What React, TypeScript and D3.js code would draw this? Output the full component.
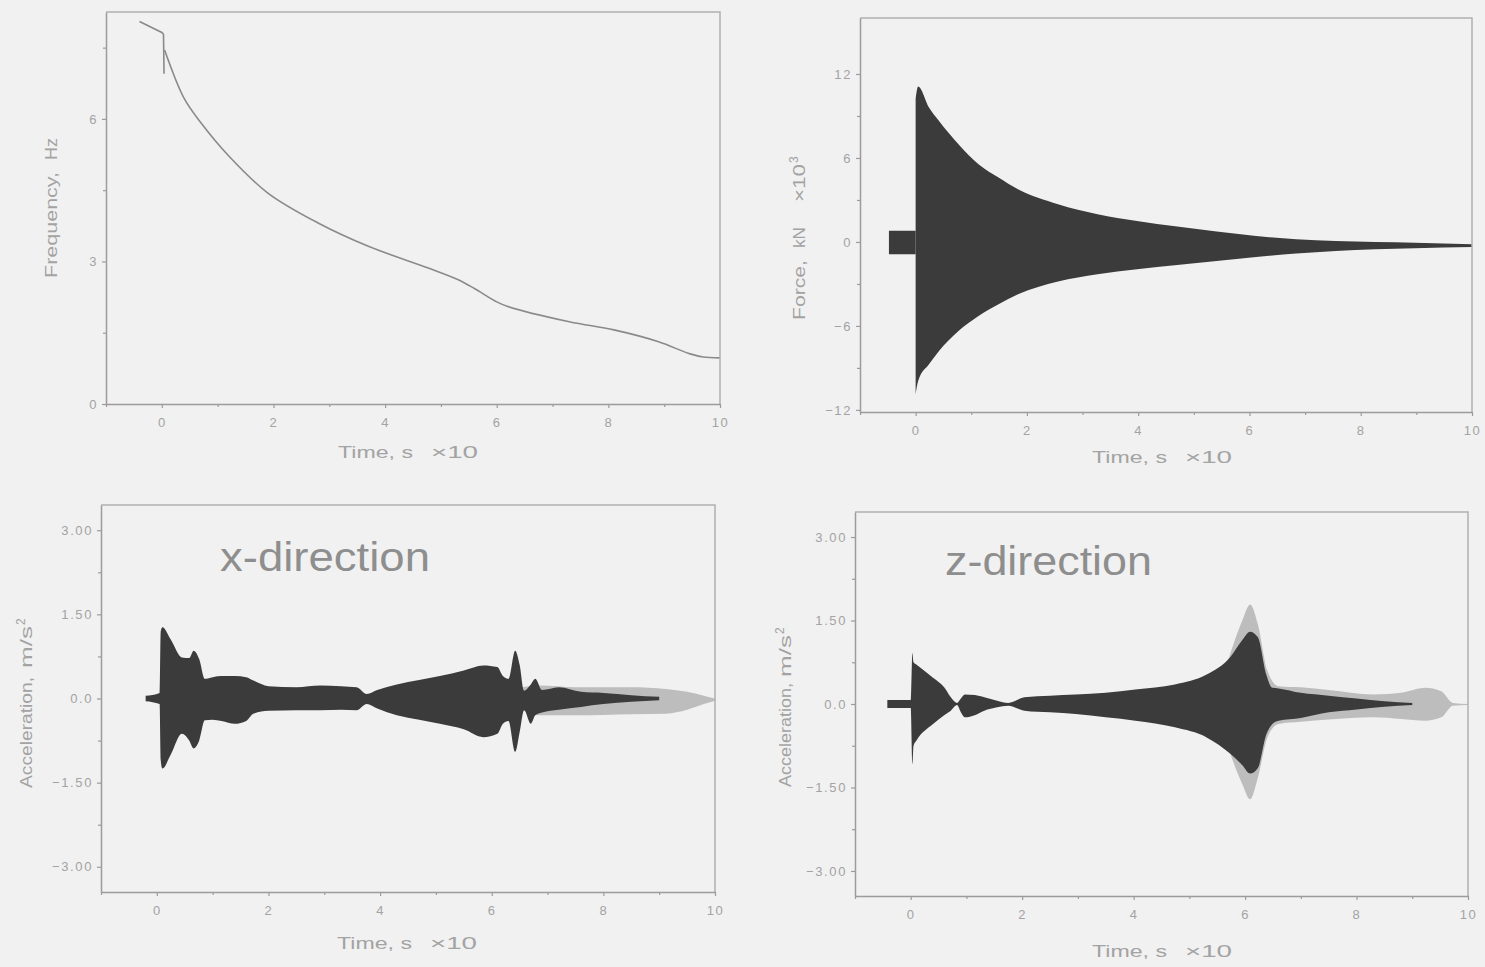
import * as d3 from 'd3'
import { useEffect, useRef } from 'react'

// shared time axis (s x10)
const X_MAJOR = [0, 2, 4, 6, 8, 10]
const X_MINOR = [-1, 1, 3, 5, 7, 9]

// top-left: frequency vs time (start segment with the glitch, then the decay curve)
const FREQ_HEAD_T = [-0.4, 0, 0.03, 0.04]
const FREQ_HEAD_HZ = [8.05, 7.82, 7.78, 6.95]
const FREQ_T = [0.05, 0.4, 0.7, 1.2, 1.9, 2.8, 3.7, 4.8, 5.3, 5.6, 6.0, 6.2, 7.3, 8.1, 8.9, 9.45, 9.7, 10]
const FREQ_HZ = [7.45, 6.43, 5.92, 5.22, 4.44, 3.81, 3.32, 2.85, 2.62, 2.43, 2.15, 2.05, 1.73, 1.56, 1.31, 1.06, 0.99, 0.97]

// top-right: force envelope (kN x10^3)
const FORCE_PRE_T = [-0.48, 0]
const FORCE_PRE_UP = [0.8, 0.8]
const FORCE_PRE_LO = [-0.88, -0.88]
const FORCE_T = [0, 0.045, 0.24, 0.42, 0.77, 1.13, 1.49, 1.84, 2.56, 3.27, 3.98, 4.7, 5.41, 6.12, 6.84, 7.55, 8.97, 10]
const FORCE_UP = [10.2, 11.1, 9.6, 8.64, 6.98, 5.55, 4.6, 3.76, 2.69, 1.98, 1.5, 1.1, 0.74, 0.43, 0.19, 0.07, -0.05, -0.17]
const FORCE_LO = [-10.88, -9.93, -8.74, -7.79, -6.36, -5.29, -4.45, -3.74, -2.83, -2.31, -1.95, -1.64, -1.36, -1.07, -0.83, -0.64, -0.45, -0.36]

// bottom-left: acceleration, x-direction
const ACCX_T = [-0.2, 0.05, 0.07, 0.1, 0.25, 0.45, 0.58, 0.66, 0.76, 0.86, 1.0, 1.16, 1.4, 1.6, 1.73, 2.0, 2.5, 2.93, 3.3, 3.58, 3.76, 3.95, 4.3, 4.7, 5.07, 5.5, 5.85, 6.1, 6.2, 6.3, 6.42, 6.5, 6.58, 6.7, 6.78, 6.9, 7.2, 7.6, 8.0, 8.5, 9.0]
const ACCX_UP = [0.05, 0.1, 1.2, 1.27, 1.05, 0.73, 0.72, 0.85, 0.7, 0.35, 0.38, 0.4, 0.4, 0.38, 0.32, 0.22, 0.2, 0.23, 0.22, 0.2, 0.08, 0.15, 0.25, 0.33, 0.4, 0.5, 0.59, 0.56, 0.4, 0.35, 0.85, 0.6, 0.14, 0.25, 0.35, 0.15, 0.2, 0.12, 0.1, 0.06, 0.03]
const ACCX_LO = [-0.05, -0.1, -1.1, -1.25, -1.0, -0.63, -0.75, -0.89, -0.75, -0.39, -0.38, -0.4, -0.45, -0.4, -0.27, -0.22, -0.21, -0.21, -0.2, -0.21, -0.1, -0.18, -0.3, -0.38, -0.45, -0.55, -0.69, -0.63, -0.45, -0.4, -0.95, -0.6, -0.21, -0.45, -0.3, -0.25, -0.2, -0.15, -0.1, -0.06, -0.03]
const ACCX_TAIL_T = [6.55, 6.85, 7.5, 8.5, 9.12, 9.5, 9.8, 10]
const ACCX_TAIL_UP = [0.2, 0.23, 0.2, 0.2, 0.17, 0.12, 0.05, 0.0]
const ACCX_TAIL_LO = [-0.2, -0.3, -0.3, -0.28, -0.27, -0.2, -0.1, -0.04]

// bottom-right: acceleration, z-direction
const ACCZ_T = [-0.42, 0.0, 0.03, 0.05, 0.1, 0.4, 0.6, 0.72, 0.83, 0.9, 0.97, 1.15, 1.32, 1.55, 1.75, 2.04, 2.5, 2.96, 3.5, 4.03, 4.74, 5.31, 5.74, 5.95, 6.09, 6.23, 6.38, 6.49, 6.6, 7.0, 7.5, 8.0, 8.5, 9.0]
const ACCZ_UP = [0.07, 0.07, 0.92, 0.75, 0.71, 0.47, 0.3, 0.12, 0.02, 0.1, 0.17, 0.16, 0.12, 0.06, 0.02, 0.12, 0.15, 0.17, 0.2, 0.26, 0.35, 0.53, 0.85, 1.15, 1.3, 1.2, 0.53, 0.29, 0.28, 0.2, 0.15, 0.1, 0.05, 0.02]
const ACCZ_LO = [-0.07, -0.07, -1.08, -0.75, -0.66, -0.36, -0.2, -0.12, -0.02, -0.15, -0.24, -0.2, -0.12, -0.06, -0.03, -0.12, -0.15, -0.18, -0.24, -0.3, -0.42, -0.6, -0.9, -1.1, -1.25, -1.15, -0.55, -0.36, -0.3, -0.25, -0.15, -0.1, -0.05, -0.02]
const ACCZ_TAIL_T = [5.7, 5.95, 6.09, 6.23, 6.4, 6.6, 7.0, 7.5, 8.3, 8.8, 9.23, 9.52, 9.73, 10]
const ACCZ_TAIL_UP = [0.8, 1.5, 1.79, 1.43, 0.6, 0.32, 0.3, 0.25, 0.17, 0.2, 0.29, 0.23, 0.02, 0.0]
const ACCZ_TAIL_LO = [-0.8, -1.44, -1.71, -1.32, -0.6, -0.36, -0.32, -0.28, -0.24, -0.27, -0.3, -0.24, -0.03, -0.02]

const ACC_TICKS = [-3, -1.5, 0, 1.5, 3]
const ACC_MINOR = [-2.25, -0.75, 0.75, 2.25]
const minus = (s) => s.replace('-', '\u2212')
const accFmt = (d) => (d === 0 ? '0.0' : minus(d3.format('.2f')(d)))

const FONT = 'Liberation Sans, Arial, sans-serif'
const INK = '#a3a3a3'
const DARK = '#3b3b3b'
const LIGHT = '#bdbdbd'

const zip = (t, up, lo) => t.map((v, i) => ({ t: v, up: up[i], lo: lo[i] }))

// stretched label piece (the scan is wide), len = target length in px
function label(g, { x, y, len, text, size = 16, rotate = false, sup = null }) {
  const t = g.append('text')
    .attr('transform', rotate ? `translate(${x},${y}) rotate(-90)` : `translate(${x},${y})`)
    .attr('fill', INK)
    .attr('font-family', FONT)
    .attr('font-size', size)
  t.append('tspan').attr('textLength', len).attr('lengthAdjust', 'spacingAndGlyphs').text(text)
  if (sup) t.append('tspan').attr('dy', -7).attr('dx', 1).attr('font-size', 12).text(sup)
}

function Panel({ box, yDomain, yTicks, yMinor, yFormat, xTitle, yTitle, draw }) {
  const ref = useRef(null)

  useEffect(() => {
    const g = d3.select(ref.current)
    g.selectAll('*').remove()

    const x = d3.scaleLinear().domain([-1, 10]).range([box.left, box.right])
    const y = d3.scaleLinear().domain(yDomain).range([box.bottom, box.top])

    draw(g.append('g'), x, y)

    // frame (top + right)
    g.append('path')
      .attr('d', `M${box.left},${box.top}H${box.right}V${box.bottom}`)
      .attr('fill', 'none')
      .attr('stroke', '#b0b0b0')
      .attr('stroke-width', 1.5)

    g.append('g')
      .attr('transform', `translate(0,${box.bottom})`)
      .call(d3.axisBottom(x).tickValues(X_MAJOR).tickSize(4).tickPadding(10).tickSizeOuter(0))
    g.append('g')
      .attr('transform', `translate(0,${box.bottom})`)
      .call(d3.axisBottom(x).tickValues(X_MINOR).tickSize(3).tickFormat(() => '').tickSizeOuter(0))
      .call((a) => a.select('.domain').remove())

    g.append('g')
      .attr('transform', `translate(${box.left},0)`)
      .call(d3.axisLeft(y).tickValues(yTicks).tickSize(4).tickPadding(4).tickFormat(yFormat).tickSizeOuter(0))
    g.append('g')
      .attr('transform', `translate(${box.left},0)`)
      .call(d3.axisLeft(y).tickValues(yMinor).tickSize(3).tickFormat(() => '').tickSizeOuter(0))
      .call((a) => a.select('.domain').remove())

    g.selectAll('.domain').attr('stroke', '#9c9c9c').attr('stroke-width', 1.5)
    g.selectAll('.tick line').attr('stroke', '#9c9c9c').attr('stroke-width', 1.2)
    g.selectAll('.tick text')
      .attr('fill', INK)
      .attr('font-family', FONT)
      .attr('font-size', 13)
      .style('letter-spacing', '1.6px')

    // axis titles
    label(g, { x: xTitle.x, y: xTitle.y, len: 75, text: 'Time, s', size: 17 })
    label(g, { x: xTitle.x + 93, y: xTitle.y, len: 47, text: '\u00d710', size: 17 })
    yTitle.parts.forEach((p) => label(g, { x: yTitle.x, rotate: true, ...p }))
  }, [])

  return <g ref={ref} />
}

const envelope = (x, y) =>
  d3.area().x((d) => x(d.t)).y0((d) => y(d.lo)).y1((d) => y(d.up)).curve(d3.curveMonotoneX)

export default function App() {
  return (
    <svg width={1485} height={967} style={{ position: 'absolute', left: 0, top: 0 }}>
      <rect width={1485} height={967} fill="#f1f1f1" />

      <Panel
        box={{ left: 106, right: 720, top: 12, bottom: 404 }}
        yDomain={[0, 8.25]}
        yTicks={[0, 3, 6]}
        yMinor={[1.5, 4.5, 7.5]}
        yFormat={d3.format('d')}
        xTitle={{ x: 338, y: 458 }}
        yTitle={{ x: 57, parts: [
          { y: 278, len: 106, text: 'Frequency,' },
          { y: 160, len: 22, text: 'Hz' },
        ] }}
        draw={(g, x, y) => {
          g.append('path')
            .datum(FREQ_HEAD_T.map((t, i) => [t, FREQ_HEAD_HZ[i]]))
            .attr('fill', 'none')
            .attr('stroke', '#8a8a8a')
            .attr('stroke-width', 1.6)
            .attr('d', d3.line().x((d) => x(d[0])).y((d) => y(d[1])))
          g.append('path')
            .datum(FREQ_T.map((t, i) => [t, FREQ_HZ[i]]))
            .attr('fill', 'none')
            .attr('stroke', '#8a8a8a')
            .attr('stroke-width', 1.6)
            .attr('d', d3.line().x((d) => x(d[0])).y((d) => y(d[1])).curve(d3.curveCatmullRom))
        }}
      />

      <Panel
        box={{ left: 860, right: 1472, top: 18, bottom: 412 }}
        yDomain={[-12.15, 16]}
        yTicks={[-12, -6, 0, 6, 12]}
        yMinor={[-9, -3, 3, 9]}
        yFormat={(d) => minus(String(d))}
        xTitle={{ x: 1092, y: 463 }}
        yTitle={{ x: 805, parts: [
          { y: 320, len: 60, text: 'Force,' },
          { y: 248, len: 21, text: 'kN' },
          { y: 202, len: 38, text: '\u00d710', sup: '3' },
        ] }}
        draw={(g, x, y) => {
          g.append('path')
            .datum(zip(FORCE_PRE_T, FORCE_PRE_UP, FORCE_PRE_LO))
            .attr('fill', DARK)
            .attr('d', d3.area().x((d) => x(d.t)).y0((d) => y(d.lo)).y1((d) => y(d.up)))
          g.append('path')
            .datum(zip(FORCE_T, FORCE_UP, FORCE_LO))
            .attr('fill', DARK)
            .attr('d', envelope(x, y))
        }}
      />

      <Panel
        box={{ left: 101, right: 715, top: 505, bottom: 892 }}
        yDomain={[-3.45, 3.45]}
        yTicks={ACC_TICKS}
        yMinor={ACC_MINOR}
        yFormat={accFmt}
        xTitle={{ x: 337, y: 949 }}
        yTitle={{ x: 32, parts: [
          { y: 788, len: 111, text: 'Acceleration,' },
          { y: 668, len: 42, text: 'm/s', sup: '2' },
        ] }}
        draw={(g, x, y) => {
          g.append('path')
            .datum(zip(ACCX_TAIL_T, ACCX_TAIL_UP, ACCX_TAIL_LO))
            .attr('fill', LIGHT)
            .attr('d', envelope(x, y))
          g.append('path')
            .datum(zip(ACCX_T, ACCX_UP, ACCX_LO))
            .attr('fill', DARK)
            .attr('d', envelope(x, y))
          g.append('text')
            .attr('x', 220)
            .attr('y', 571)
            .attr('fill', '#8e8e8e')
            .attr('font-family', FONT)
            .attr('font-size', 40)
            .attr('textLength', 210)
            .attr('lengthAdjust', 'spacingAndGlyphs')
            .text('x-direction')
        }}
      />

      <Panel
        box={{ left: 855, right: 1468, top: 512, bottom: 896 }}
        yDomain={[-3.45, 3.45]}
        yTicks={ACC_TICKS}
        yMinor={ACC_MINOR}
        yFormat={accFmt}
        xTitle={{ x: 1092, y: 957 }}
        yTitle={{ x: 791, parts: [
          { y: 787, len: 104, text: 'Acceleration,' },
          { y: 677, len: 42, text: 'm/s', sup: '2' },
        ] }}
        draw={(g, x, y) => {
          g.append('path')
            .datum(zip(ACCZ_TAIL_T, ACCZ_TAIL_UP, ACCZ_TAIL_LO))
            .attr('fill', LIGHT)
            .attr('d', envelope(x, y))
          g.append('path')
            .datum(zip(ACCZ_T, ACCZ_UP, ACCZ_LO))
            .attr('fill', DARK)
            .attr('d', envelope(x, y))
          g.append('text')
            .attr('x', 945)
            .attr('y', 575)
            .attr('fill', '#8e8e8e')
            .attr('font-family', FONT)
            .attr('font-size', 40)
            .attr('textLength', 207)
            .attr('lengthAdjust', 'spacingAndGlyphs')
            .text('z-direction')
        }}
      />
    </svg>
  )
}
